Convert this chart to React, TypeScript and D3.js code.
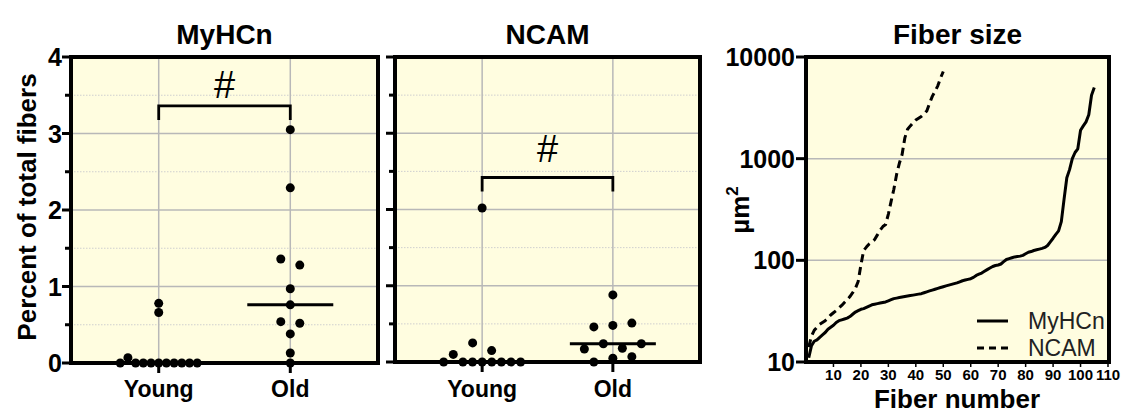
import React from "react";
import * as d3 from "d3";

// ---- data ----
const groups = ["Young", "Old"];
const pctTicks = [0, 1, 2, 3, 4];
const pctMinorTicks = [0.5, 1.5, 2.5, 3.5];

const myhcnYoung = [0, 0.07, 0, 0, 0, 0, 0, 0, 0, 0, 0, 0.66, 0.78];
const myhcnOld = [3.05, 2.29, 1.36, 1.28, 0.97, 0.76, 0.54, 0.52, 0.38, 0.13, 0];
const ncamYoung = [0, 0.1, 0, 0, 0, 0, 0, 0, 0, 0.25, 0.15, 2.02];
const ncamOld = [0, 0.05, 0.07, 0.17, 0.24, 0.18, 0.24, 0.46, 0.48, 0.51, 0.88];

// significance bracket heights (percent units)
const bracketLevels = [3.36, 2.42];

// sorted fiber cross-sectional areas (µm²), one value per fiber
const fiberMyHCn = [
  11, 14.5, 16, 16.5, 17.5, 18.5, 19.5, 21, 22, 23,
  24.5, 25.5, 26, 26.5, 27, 28, 29.5, 31, 32, 33,
  33.5, 34.5, 35.5, 36.5, 37, 37.5, 38, 38.5, 39, 40,
  41, 42, 42.5, 43, 43.5, 44, 44.5, 45, 45.5, 46,
  46.5, 47, 48, 49, 50, 51, 52, 53, 54, 55,
  56, 57, 58, 59, 60, 61.5, 63, 64, 65, 66,
  68, 71, 73, 75, 78, 81, 84, 87, 89, 90,
  92, 97, 102, 104, 106, 108, 109, 110, 112, 116,
  120, 122, 125, 127, 129, 131, 134, 140, 152, 165,
  180, 195, 240, 400, 650, 780, 1000, 1150, 1250, 1900,
  2100, 2300, 2700, 4200, 5000,
];
const fiberNCAM = [
  14, 18, 20.5, 22, 23.5, 24.5, 25.5, 27, 29, 30.5,
  32, 34, 36, 38.5, 41, 44, 48, 53, 62, 90,
  125, 135, 145, 152, 160, 178, 198, 215, 225, 285,
  380, 500, 700, 900, 1100, 1600, 1950, 2100, 2250, 2400,
  2500, 2600, 2750, 2950, 3500, 4100, 4600, 5200, 6200, 7200,
];
const fiberXTicks = [10, 20, 30, 40, 50, 60, 70, 80, 90, 100, 110];
const fiberYTicks = [10, 100, 1000, 10000];
const fiberSeries = ["MyHCn", "NCAM"];

// ---- styling ----
const FONT = "'Liberation Sans', Arial, Helvetica, sans-serif";
const BG = "#FFFDE0";
const GRID = "#B8B8B8";
const MINOR = "#CFCFCF";
const DOT_R = 4.5;
const FRAME_W = 4;

type Placed = { v: number; x: number; y: number };

// Scatter layout: values close in height share a row and are spread around the group centre.
function scatterLayout(values: number[], y: (v: number) => number, cx: number): Placed[] {
  const items = values.map((v, i) => ({ v, i, py: y(v) }));
  const sorted = [...items].sort((a, b) => a.v - b.v || a.i - b.i);
  const rows: typeof items[] = [];
  let cur: typeof items = [];
  let startPy = 0;
  for (const it of sorted) {
    if (cur.length === 0 || startPy - it.py <= 8.5) {
      if (cur.length === 0) startPy = it.py;
      cur.push(it);
    } else {
      rows.push(cur);
      cur = [it];
      startPy = it.py;
    }
  }
  if (cur.length) rows.push(cur);
  const out: Placed[] = [];
  for (const row of rows) {
    row.sort((a, b) => a.i - b.i);
    const n = row.length;
    const step = n > 1 ? Math.min(19, 77 / (n - 1)) : 0;
    row.forEach((it, k) => out.push({ v: it.v, x: cx + (k - (n - 1) / 2) * step, y: it.py }));
  }
  return out;
}

type DotPanelProps = {
  title: string;
  young: number[];
  old: number[];
  left: number;
  right: number;
  top: number;
  bottom: number;
  showTickLabels: boolean;
  bracket: number;
  hashGap: number;
};

function DotPanel(p: DotPanelProps) {
  const x = d3.scalePoint<string>().domain(groups).range([p.left, p.right]).padding(2 / 3);
  const y = d3.scaleLinear().domain([0, 4]).range([p.bottom, p.top]);
  const sets = [p.young, p.old];
  const xs = groups.map((g) => x(g) as number);
  const by = y(p.bracket);
  return (
    <g>
      <rect x={p.left} y={p.top} width={p.right - p.left} height={p.bottom - p.top} fill={BG} />
      {pctMinorTicks.map((t) => (
        <line key={"mg" + t} x1={p.left} x2={p.right} y1={y(t)} y2={y(t)} stroke={MINOR} strokeWidth={1} strokeDasharray="1.5,1.5" />
      ))}
      {pctTicks.slice(1, -1).map((t) => (
        <line key={"g" + t} x1={p.left} x2={p.right} y1={y(t)} y2={y(t)} stroke={GRID} strokeWidth={1.5} />
      ))}
      {xs.map((cx, i) => (
        <line key={"vg" + i} x1={cx} x2={cx} y1={p.top} y2={p.bottom} stroke={GRID} strokeWidth={1.5} />
      ))}
      {/* ticks */}
      {pctTicks.map((t) => (
        <line key={"t" + t} x1={p.left - 9} x2={p.left} y1={y(t)} y2={y(t)} stroke="#000" strokeWidth={3} />
      ))}
      {pctMinorTicks.map((t) => (
        <line key={"mt" + t} x1={p.left - 6} x2={p.left} y1={y(t)} y2={y(t)} stroke="#000" strokeWidth={3} />
      ))}
      {xs.map((cx, i) => (
        <line key={"xt" + i} x1={cx} x2={cx} y1={p.bottom} y2={p.bottom + 10} stroke="#000" strokeWidth={3} />
      ))}
      {p.showTickLabels &&
        pctTicks.map((t) => (
          <text key={"tl" + t} x={p.left - 9} y={y(t)} textAnchor="end" dominantBaseline="central" fontFamily={FONT} fontWeight="bold" fontSize={25} fill="#000">
            {t}
          </text>
        ))}
      {groups.map((g, i) => (
        <text key={"cl" + g} x={xs[i]} y={397} textAnchor="middle" fontFamily={FONT} fontWeight="bold" fontSize={23} fill="#000">
          {g}
        </text>
      ))}
      {/* points and medians */}
      {sets.map((vals, gi) => {
        const pts = scatterLayout(vals, y, xs[gi]);
        const med = d3.median(vals) as number;
        return (
          <g key={"set" + gi}>
            {pts.map((d, k) => (
              <circle key={k} cx={d.x} cy={d.y} r={DOT_R} fill="#000" />
            ))}
            <line x1={xs[gi] - 43} x2={xs[gi] + 43} y1={y(med)} y2={y(med)} stroke="#000" strokeWidth={3} />
          </g>
        );
      })}
      {/* significance bracket */}
      <path d={`M${xs[0]},${by + 14}V${by}H${xs[1]}V${by + 14}`} fill="none" stroke="#000" strokeWidth={2.8} />
      <text x={(xs[0] + xs[1]) / 2} y={by - p.hashGap} textAnchor="middle" fontFamily={FONT} fontSize={38} fill="#000">
        #
      </text>
      <rect x={p.left} y={p.top} width={p.right - p.left} height={p.bottom - p.top} fill="none" stroke="#000" strokeWidth={FRAME_W} />
      <text x={(p.left + p.right) / 2} y={44} textAnchor="middle" fontFamily={FONT} fontWeight="bold" fontSize={28} fill="#000">
        {p.title}
      </text>
    </g>
  );
}

function FiberPanel() {
  const left = 806, right = 1109, top = 57, bottom = 362;
  const x = d3.scaleLinear().domain([0, 110]).range([left, 1108]);
  const y = d3.scaleLog().domain([10, 10000]).range([bottom, top]);
  const line = d3
    .line<number>()
    .x((_, i) => x(i + 1))
    .y((d) => y(d));
  const series = [fiberMyHCn, fiberNCAM];
  const dashes = [undefined, "8,5"];
  return (
    <g>
      <rect x={left} y={top} width={right - left} height={bottom - top} fill={BG} />
      {fiberYTicks.slice(1, -1).map((t) => (
        <line key={"g" + t} x1={left} x2={right} y1={y(t)} y2={y(t)} stroke={GRID} strokeWidth={1.5} />
      ))}
      {series.map((s, i) => (
        <path key={"s" + i} d={line(s) || ""} fill="none" stroke="#000" strokeWidth={3} strokeDasharray={dashes[i]} strokeLinejoin="round" />
      ))}
      {fiberYTicks.map((t) => (
        <g key={"yt" + t}>
          <line x1={left - 10} x2={left} y1={y(t)} y2={y(t)} stroke="#000" strokeWidth={3} />
          <text x={left - 11} y={y(t)} textAnchor="end" dominantBaseline="central" fontFamily={FONT} fontWeight="bold" fontSize={25} fill="#000">
            {t}
          </text>
        </g>
      ))}
      {fiberXTicks.map((t) => (
        <g key={"xt" + t}>
          <line x1={x(t)} x2={x(t)} y1={bottom} y2={bottom + 5} stroke="#000" strokeWidth={1.5} />
          <text x={x(t)} y={380} textAnchor="middle" fontFamily={FONT} fontWeight="bold" fontSize={15} fill="#000">
            {t}
          </text>
        </g>
      ))}
      {/* legend */}
      {fiberSeries.map((name, i) => (
        <g key={"lg" + name}>
          <line x1={977} x2={1008} y1={321 + i * 27} y2={321 + i * 27} stroke="#000" strokeWidth={3} strokeDasharray={dashes[i] ? "7,5" : undefined} />
          <text x={1028} y={321 + i * 27} dominantBaseline="central" fontFamily={FONT} fontSize={23} fill="#222">
            {name}
          </text>
        </g>
      ))}
      <rect x={left} y={top} width={right - left} height={bottom - top} fill="none" stroke="#000" strokeWidth={FRAME_W} />
      <text x={(left + right) / 2} y={44} textAnchor="middle" fontFamily={FONT} fontWeight="bold" fontSize={28} fill="#000">
        Fiber size
      </text>
      <text x={957} y={408} textAnchor="middle" fontFamily={FONT} fontWeight="bold" fontSize={26} fill="#000">
        Fiber number
      </text>
      <text transform="translate(749,210) rotate(-90)" textAnchor="middle" fontFamily={FONT} fontWeight="bold" fontSize={26} fill="#000">
        <tspan>µm</tspan>
        <tspan fontSize={17} dy={-11}>2</tspan>
      </text>
    </g>
  );
}

export default function App() {
  return (
    <svg width={1125} height={419} style={{ position: "absolute", left: 0, top: 0, background: "#fff" }}>
      <rect width={1125} height={419} fill="#fff" />
      <DotPanel title="MyHCn" young={myhcnYoung} old={myhcnOld} left={71} right={378} top={57} bottom={363} showTickLabels={true} bracket={bracketLevels[0]} hashGap={8} />
      <DotPanel title="NCAM" young={ncamYoung} old={ncamOld} left={395} right={700} top={57} bottom={362} showTickLabels={false} bracket={bracketLevels[1]} hashGap={15} />
      <text transform="translate(36,207) rotate(-90)" textAnchor="middle" fontFamily={FONT} fontWeight="bold" fontSize={26} fill="#000">
        Percent of total fibers
      </text>
      <FiberPanel />
    </svg>
  );
}
